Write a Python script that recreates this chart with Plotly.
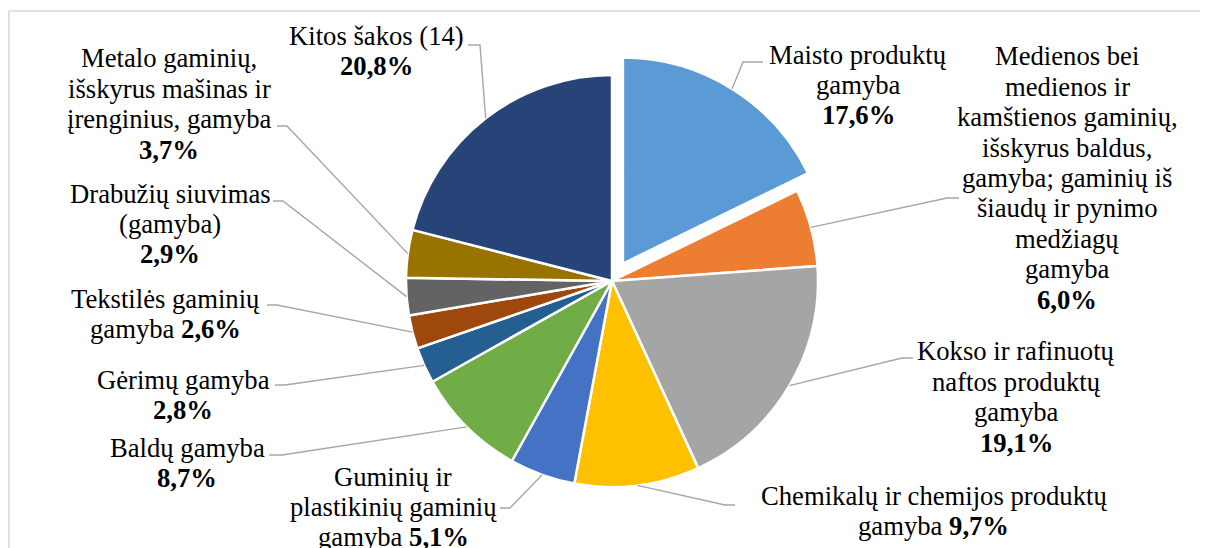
import math
import plotly.graph_objects as go

# ---- data ----
categories = [
    "Maisto produktų gamyba",
    "Medienos bei medienos ir kamštienos gaminių, išskyrus baldus, gamyba; gaminių iš šiaudų ir pynimo medžiagų gamyba",
    "Kokso ir rafinuotų naftos produktų gamyba",
    "Chemikalų ir chemijos produktų gamyba",
    "Guminių ir plastikinių gaminių gamyba",
    "Baldų gamyba",
    "Gėrimų gamyba",
    "Tekstilės gaminių gamyba",
    "Drabužių siuvimas (gamyba)",
    "Metalo gaminių, išskyrus mašinas ir įrenginius, gamyba",
    "Kitos šakos (14)",
]
values = [17.6, 6.0, 19.1, 9.7, 5.1, 8.7, 2.8, 2.6, 2.9, 3.7, 20.8]
value_labels = ["17,6%", "6,0%", "19,1%", "9,7%", "5,1%", "8,7%", "2,8%", "2,6%", "2,9%", "3,7%", "20,8%"]
colors = ["#5B9BD5", "#ED7D31", "#A5A5A5", "#FFC000", "#4472C4", "#70AD47",
          "#255E91", "#9E480E", "#636363", "#997300", "#264478"]
pulls = [0.1, 0, 0, 0, 0, 0, 0, 0, 0, 0, 0]

# label lines (None = value on its own line, " +" suffix = value appended)
label_lines = [
    ["Maisto produktų", "gamyba", None],
    ["Medienos bei", "medienos ir", "kamštienos gaminių,", "išskyrus baldus,",
     "gamyba; gaminių iš", "šiaudų ir pynimo", "medžiagų", "gamyba", None],
    ["Kokso ir rafinuotų", "naftos produktų", "gamyba", None],
    ["Chemikalų ir chemijos produktų", "gamyba +"],
    ["Guminių ir", "plastikinių gaminių", "gamyba +"],
    ["Baldų gamyba", None],
    ["Gėrimų gamyba", None],
    ["Tekstilės gaminių", "gamyba +"],
    ["Drabužių siuvimas", "(gamyba)", None],
    ["Metalo gaminių,", "išskyrus mašinas ir", "įrenginius, gamyba", None],
    ["Kitos šakos (14)", None],
]

# ---- layout geometry (page pixels) ----
OFF = 8                      # page body margin
W, H = 1200, 540
CX, CY, R = 612, 281, 206
LINE_H = 30.4
FONT_SIZE = 26.67
label_pos = [(858, 85), (1067, 178), (1016, 397), (934, 511), (393, 507), (187, 463),
             (183, 395), (165, 314), (170, 224), (169, 104), (376, 51)]
# leader elbow and end points
leader_pts = [
    [(743, 62), (763, 62)],
    [(947, 198), (959, 198)],
    [(902, 358), (913, 358)],
    [(725, 505), (735, 505)],
    [(510, 508), (500, 508)],
    [(282, 455), (269, 455)],
    [(285, 385), (275, 385)],
    [(277, 305), (267, 305)],
    [(283, 201), (273, 201)],
    [(287, 126), (277, 126)],
    [(480, 45), (468, 45)],
]

def px(x):
    return (x - OFF) / W

def py(y):
    return 1 - (y - OFF) / H

maxpull = max(pulls)
half = R * (1 + maxpull)

fig = go.Figure(go.Pie(
    labels=categories,
    values=values,
    sort=False,
    direction="clockwise",
    rotation=0,
    pull=pulls,
    marker=dict(colors=colors, line=dict(color="white", width=2.5)),
    textinfo="none",
    hoverinfo="label+percent",
    showlegend=False,
    domain=dict(x=[px(CX - half), px(CX + half)], y=[py(CY + half), py(CY - half)]),
))

shapes = []
annotations = []
total = sum(values)
cum = 0.0
FONT = "Liberation Serif"
for i, v in enumerate(values):
    mid = (cum + v / 2) / total * 2 * math.pi
    cum += v
    ox = CX + pulls[i] * R * math.sin(mid)
    oy = CY - pulls[i] * R * math.cos(mid)
    sx = ox + R * math.sin(mid)
    sy = oy - R * math.cos(mid)
    pts = [(sx, sy)] + leader_pts[i]
    path = "M " + " L ".join(f"{px(x)},{py(y)}" for x, y in pts)
    shapes.append(dict(type="path", path=path, xref="paper", yref="paper",
                       line=dict(color="#A6A6A6", width=1.4)))
    lines = []
    for ln in label_lines[i]:
        if ln is None:
            lines.append(f"<b>{value_labels[i]}</b>")
        elif ln.endswith(" +"):
            lines.append(ln[:-2] + f" <b>{value_labels[i]}</b>")
        else:
            lines.append(ln)
    lx, ly = label_pos[i]
    n = len(lines)
    for k, t in enumerate(lines):
        yk = ly + (k - (n - 1) / 2) * LINE_H
        annotations.append(dict(
            text=t, x=px(lx), y=py(yk), xref="paper", yref="paper",
            xanchor="center", yanchor="middle", align="center", showarrow=False,
            font=dict(family=FONT, size=FONT_SIZE, color="black"),
        ))

# chart border
shapes.append(dict(type="rect", xref="paper", yref="paper",
                   x0=px(9), x1=1.05, y0=-0.2, y1=py(11),
                   line=dict(color="#D9D9D9", width=1.5), fillcolor="rgba(0,0,0,0)",
                   layer="below"))

fig.update_layout(
    width=W, height=H,
    margin=dict(l=0, r=0, t=0, b=0),
    paper_bgcolor="white", plot_bgcolor="white",
    shapes=shapes, annotations=annotations,
)

fig.write_html("out.html")
